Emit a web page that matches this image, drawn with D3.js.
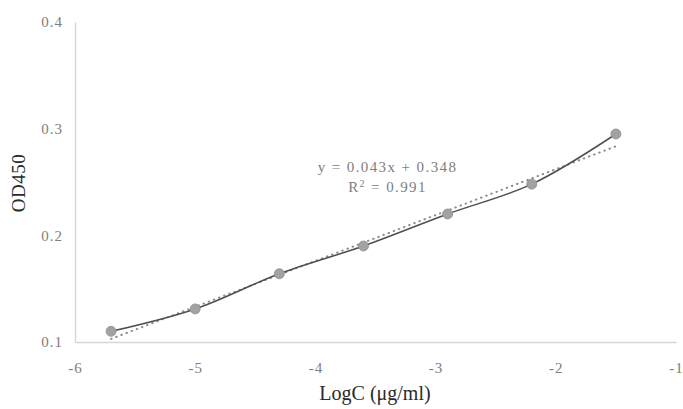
<!DOCTYPE html>
<html>
<head>
<meta charset="utf-8">
<script src="https://cdn.jsdelivr.net/npm/d3@7"></script>
<style>
  body { margin: 0; background: #fff; }
  text { font-family: "Liberation Serif", "DejaVu Serif", serif; }
</style>
</head>
<body>
<svg id="chart" width="683" height="409"></svg>
<script>
// standard curve values
const logC = [-5.7, -5.0, -4.3, -3.6, -2.9, -2.2, -1.5];
const od450 = [0.110, 0.131, 0.164, 0.190, 0.220, 0.248, 0.295];
const xTicks = [-6, -5, -4, -3, -2, -1];
const yTicks = [0.1, 0.2, 0.3, 0.4];
// linear trendline as printed on the chart
const slope = 0.043, intercept = 0.348, r2 = 0.991;

const svg = d3.select("#chart");
const margin = {top: 22, right: 7, bottom: 67, left: 75};
const w = 683 - margin.left - margin.right;
const h = 409 - margin.top - margin.bottom;

const x = d3.scaleLinear().domain([-6, -1]).range([0, w]);
const y = d3.scaleLinear().domain([0.1, 0.4]).range([h, 0]);

const g = svg.append("g")
    .attr("transform", `translate(${margin.left},${margin.top})`);

// axes, no tick marks, light grey lines
const xAxis = g.append("g")
    .attr("transform", `translate(0,${h})`)
    .call(d3.axisBottom(x).tickValues(xTicks).tickSize(0).tickPadding(20)
        .tickFormat(d => d));
const yAxis = g.append("g")
    .call(d3.axisLeft(y).tickValues(yTicks).tickSize(0).tickPadding(12)
        .tickFormat(d3.format(".1f")));

[xAxis, yAxis].forEach(a => {
  a.select(".domain").attr("stroke", "#d6d6d6").attr("stroke-width", 1.4);
  a.selectAll("text")
      .attr("fill", "#7e7e7e")
      .style("font-size", "15px")
      .style("letter-spacing", "1px")
      .style("font-family", "'Liberation Serif', serif");
});

// dotted trendline
const ext = d3.extent(logC);
g.append("line")
    .attr("x1", x(ext[0])).attr("y1", y(slope * ext[0] + intercept))
    .attr("x2", x(ext[1])).attr("y2", y(slope * ext[1] + intercept))
    .attr("stroke", "#8c8c8c")
    .attr("stroke-width", 2)
    .attr("stroke-dasharray", "0.5,5")
    .attr("stroke-linecap", "round");

// data line
const pts = logC.map((v, i) => [v, od450[i]]);
g.append("path")
    .datum(pts)
    .attr("fill", "none")
    .attr("stroke", "#4f4f4f")
    .attr("stroke-width", 1.5)
    .attr("d", d3.line().x(d => x(d[0])).y(d => y(d[1])).curve(d3.curveCatmullRom));

g.selectAll("circle")
    .data(pts)
    .enter()
    .append("circle")
    .attr("cx", d => x(d[0]))
    .attr("cy", d => y(d[1]))
    .attr("r", 5)
    .attr("fill", "#a2a2a2")
    .attr("stroke", "#8e8e8e")
    .attr("stroke-width", 0.8);

// equation label
const eq = g.append("g").attr("transform", `translate(${x(-3.4)},${y(0.259)})`)
    .attr("fill", "#7e7e7e").style("font-size", "15px").style("letter-spacing", "1.4px");
eq.append("text").attr("text-anchor", "middle").attr("y", 0)
    .text(`y = ${slope}x + ${intercept}`);
const rt = eq.append("text").attr("text-anchor", "middle").attr("y", 20);
rt.append("tspan").text("R");
rt.append("tspan").attr("dy", -5).style("font-size", "10px").text("2");
rt.append("tspan").attr("dy", 5).text(` = ${r2}`);

// axis titles
svg.append("text")
    .attr("transform", `translate(25,${margin.top + h / 2 + 1}) rotate(-90)`)
    .attr("text-anchor", "middle")
    .attr("fill", "#2a2a2a")
    .style("font-size", "19px")
    .style("letter-spacing", "0.5px")
    .text("OD450");

svg.append("text")
    .attr("x", 375)
    .attr("y", 400)
    .attr("text-anchor", "middle")
    .attr("fill", "#2a2a2a")
    .style("font-size", "20px")
    .text("LogC (μg/ml)");
</script>
</body>
</html>
